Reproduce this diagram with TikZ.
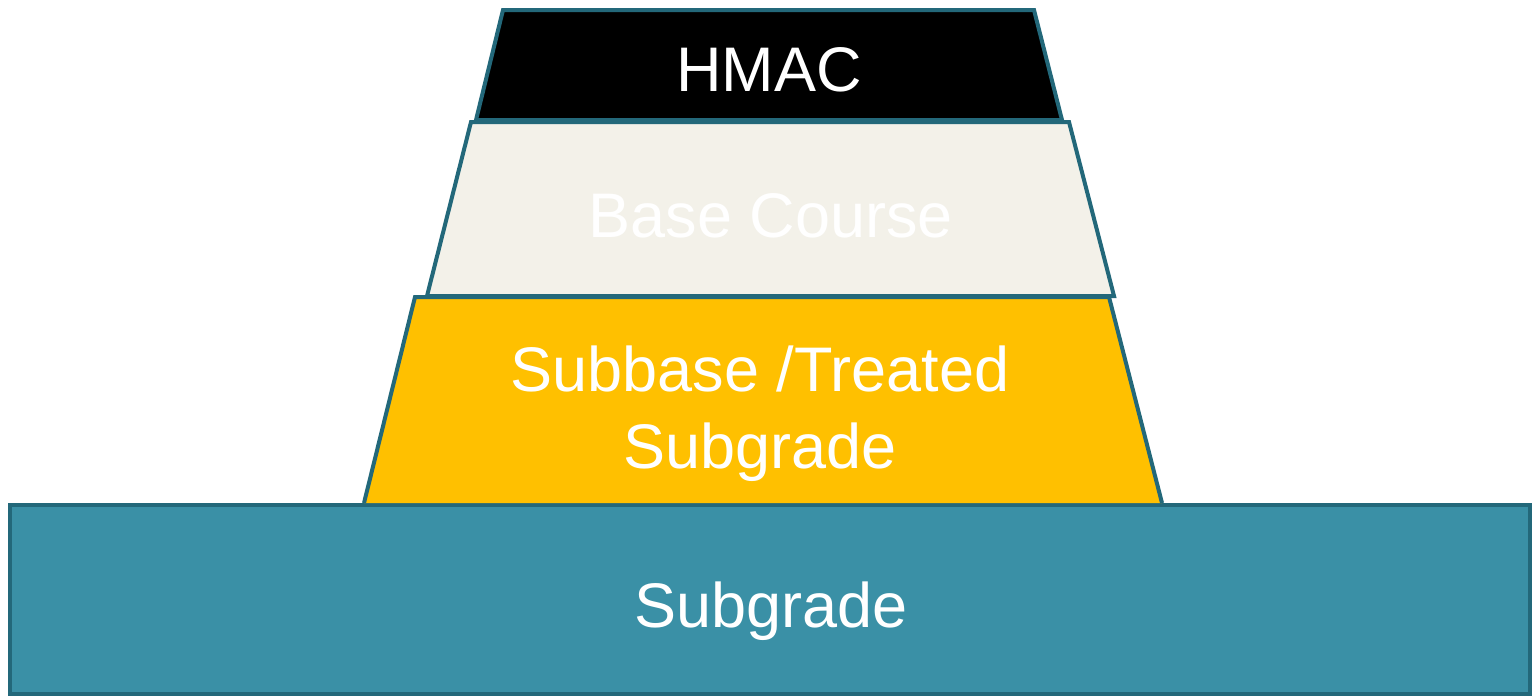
\documentclass[tikz,border=0pt]{standalone}
\usepackage{fontspec}
\setmainfont{Liberation Sans}
\definecolor{edge}{RGB}{35,104,122}
\definecolor{sgfill}{RGB}{58,144,166}
\definecolor{basefill}{RGB}{243,241,233}
\definecolor{subfill}{RGB}{255,192,0}
\tikzset{
  layer/.style={draw=edge,line width=4pt},
  lbl/.style={text=white,font=\fontsize{63}{77}\selectfont,anchor=base,inner sep=0pt,align=center}
}
\begin{document}
\begin{tikzpicture}[x=1pt,y=-1pt]
\useasboundingbox (0,0) rectangle (1533,696);
\fill[white] (0,0) rectangle (1533,696);
% subgrade
\draw[layer,fill=sgfill] (10,505) rectangle (1530,694);
% subbase
\draw[layer,fill=subfill] (364,503) -- (415,297) -- (1109,297) -- (1162,503);
% base
\draw[layer,fill=basefill] (427,296) -- (471,122) -- (1069,122) -- (1114,296) -- cycle;
% HMAC
\draw[layer,fill=black] (476,120) -- (503,10) -- (1034,10) -- (1062,120) -- cycle;
\node[lbl] (hmac) at (769,91) {HMAC};
\node[lbl] (base) at (771,237) {Base Course};
\node[lbl] (sub1) at (760,391) {Subbase /Treated};
\node[lbl] (sub2) at (760,468) {Subgrade};
\node[lbl] (sg) at (771,627) {Subgrade};
\end{tikzpicture}
\end{document}
